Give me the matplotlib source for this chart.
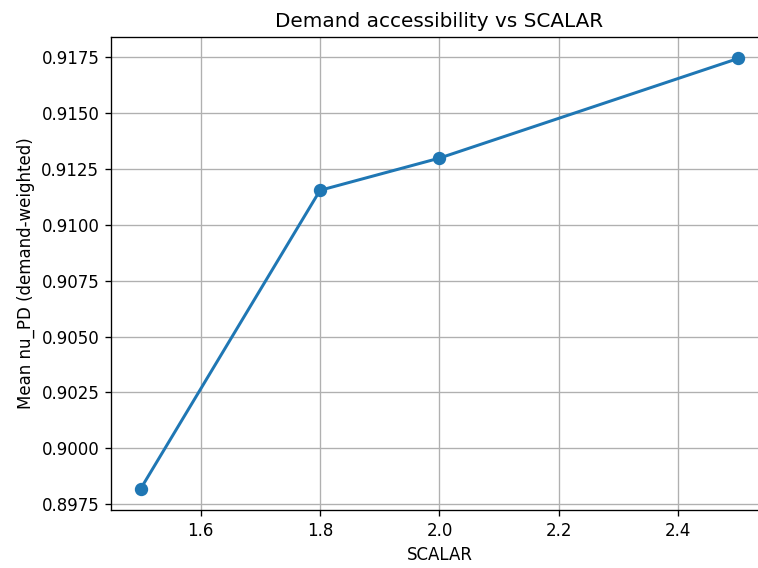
import matplotlib
matplotlib.use("Agg")
import matplotlib.pyplot as plt

scalar = [1.5, 1.8, 2.0, 2.5]
mean_nu_pd = [0.89821, 0.91153, 0.91297, 0.91742]

fig = plt.figure(figsize=(758 / 120, 568 / 120), dpi=120)
ax = fig.add_axes([0.1464, 0.1021, 0.8668, 0.8328])
ax.plot(scalar, mean_nu_pd, marker="o", linewidth=1.8, markersize=7, color="#1f77b4")
ax.set_title("Demand accessibility vs SCALAR")
ax.set_xlabel("SCALAR")
ax.set_ylabel("Mean nu_PD (demand-weighted)")
ax.grid(True)
ax.set_xticks([1.6, 1.8, 2.0, 2.2, 2.4])
fig.savefig("out.png", dpi=120)
